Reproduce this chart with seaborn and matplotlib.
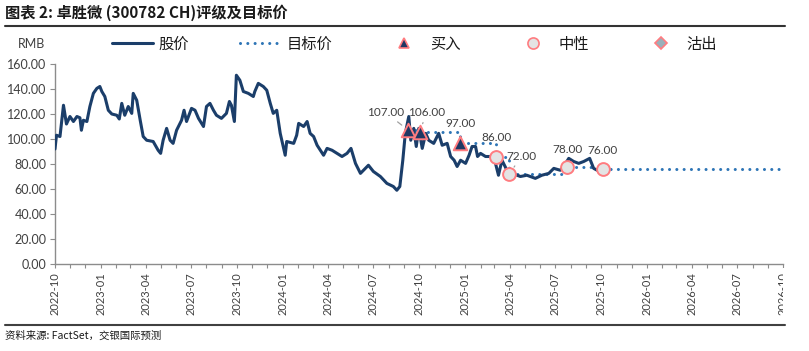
import pandas as pd
import matplotlib
matplotlib.use("Agg")
import matplotlib.pyplot as plt
import matplotlib.dates as mdates
from matplotlib.lines import Line2D
from matplotlib.patches import Rectangle
import seaborn as sns

# 股价 (RMB)
price_dates = [
    "2022-10-01", "2022-10-04", "2022-10-11", "2022-10-18", "2022-10-24", "2022-10-31",
    "2022-11-07", "2022-11-14", "2022-11-20", "2022-11-23", "2022-11-27", "2022-12-04",
    "2022-12-10", "2022-12-17", "2022-12-24", "2022-12-30", "2023-01-03", "2023-01-09",
    "2023-01-16", "2023-01-23", "2023-02-02", "2023-02-07", "2023-02-12", "2023-02-18",
    "2023-02-25", "2023-03-04", "2023-03-07", "2023-03-14", "2023-03-21", "2023-03-27",
    "2023-04-03", "2023-04-16", "2023-04-26", "2023-05-01", "2023-05-06", "2023-05-13",
    "2023-05-20", "2023-05-26", "2023-06-02", "2023-06-12", "2023-06-17", "2023-06-22",
    "2023-07-02", "2023-07-09", "2023-07-16", "2023-07-26", "2023-08-01", "2023-08-08",
    "2023-08-15", "2023-08-21", "2023-08-31", "2023-09-10", "2023-09-16", "2023-09-20",
    "2023-09-26", "2023-09-30", "2023-10-07", "2023-10-14", "2023-10-24", "2023-11-03",
    "2023-11-06", "2023-11-13", "2023-11-23", "2023-11-30", "2023-12-07", "2023-12-13",
    "2023-12-20", "2023-12-27", "2024-01-02", "2024-01-06", "2024-01-09", "2024-01-23",
    "2024-01-29", "2024-02-02", "2024-02-12", "2024-02-19", "2024-02-25", "2024-03-03",
    "2024-03-10", "2024-03-23", "2024-03-30", "2024-04-09", "2024-04-19", "2024-04-29",
    "2024-05-09", "2024-05-17", "2024-05-26", "2024-06-05", "2024-06-15", "2024-06-21",
    "2024-07-01", "2024-07-15", "2024-07-28", "2024-08-10", "2024-08-17", "2024-08-23",
    "2024-08-29", "2024-09-03", "2024-09-10", "2024-09-14", "2024-09-20", "2024-09-25",
    "2024-09-30", "2024-10-07", "2024-10-14", "2024-10-20", "2024-10-30", "2024-11-09",
    "2024-11-16", "2024-11-26", "2024-12-03", "2024-12-10", "2024-12-16", "2024-12-23",
    "2025-01-02", "2025-01-09", "2025-01-15", "2025-01-22", "2025-01-26", "2025-02-01",
    "2025-02-11", "2025-02-21", "2025-03-03", "2025-03-09", "2025-03-16", "2025-03-26",
    "2025-04-05", "2025-04-22", "2025-05-05", "2025-05-22", "2025-06-04", "2025-06-18",
    "2025-06-28", "2025-07-11", "2025-07-18", "2025-07-28", "2025-08-07", "2025-08-17",
    "2025-08-27", "2025-09-08", "2025-09-16", "2025-09-23", "2025-10-03",
]
price_values = [
    92, 103, 102, 127, 112, 118,
    114, 118, 117, 107, 115, 114,
    126, 136.5, 140.5, 142, 138, 134,
    123, 120, 119, 116, 128.5, 119,
    126, 120.5, 136.5, 131, 115, 102,
    99, 98, 91, 88.5, 99, 108.5,
    99, 96.5, 107, 115, 123, 114,
    124.5, 123, 116.5, 110, 126, 128.5,
    123, 119, 116.5, 120.5, 130, 127,
    114, 151, 147, 138, 136.5, 134,
    138, 144.5, 142, 139, 128.5, 120.5,
    123, 104.5, 94, 87, 98, 96.5,
    103, 112.5, 110, 114, 104.5, 102,
    95, 87, 92.5, 91, 88.5, 86,
    88.5, 92.5, 80.5, 72.5, 76.5, 79,
    74, 70, 64.5, 62, 59, 62,
    83, 104.5, 118, 99, 108.5, 94,
    108.5, 92.5, 104.5, 99, 96.5, 104.5,
    95, 96.5, 86, 83, 78, 83,
    80.5, 87, 94, 94, 86, 88.5,
    86, 86, 80.5, 71, 83, 75,
    72.5, 70, 71, 68.5, 71, 72.5,
    76.5, 75, 78, 84.5, 82, 80.5,
    82, 84.5, 76.5, 75, 75,
]

# 评级及目标价
rating_dates = ["2024-09-09", "2024-10-02", "2024-12-22", "2025-03-05",
                "2025-03-31", "2025-07-25", "2025-10-04"]
rating_targets = [107, 106, 97, 86, 72, 78, 76]
rating_types = ["买入", "买入", "买入", "中性", "中性", "中性", "中性"]
target_end_date = "2026-10-01"

legend_labels = ["股价", "目标价", "买入", "中性", "沽出"]

navy = "#1B3E6A"
dot_blue = "#2E75B6"
pink = "#FF7C80"
tri_fill = "#1F3864"
circ_fill = "#E4E4E4"
dia_fill = "#9AB0BA"
txt = "#404040"

sns.set_theme(style="white")
plt.rcParams["font.family"] = ["Noto Sans CJK SC", "DejaVu Sans"]

W, H = 809, 351
fig = plt.figure(figsize=(W / 100, H / 100), dpi=100)
ax = fig.add_axes([55 / W, 1 - 264 / H, 728 / W, 200 / H])

price = pd.DataFrame({"date": pd.to_datetime(price_dates), "value": price_values})
target = pd.DataFrame({
    "date": pd.to_datetime(rating_dates + [target_end_date]),
    "value": rating_targets + [rating_targets[-1]],
})
ratings = pd.DataFrame({"date": pd.to_datetime(rating_dates),
                        "value": rating_targets, "type": rating_types})

sns.lineplot(data=target, x="date", y="value", ax=ax, color=dot_blue, lw=2.2,
             drawstyle="steps-post", linestyle=(0, (0.01, 2.38)),
             dash_capstyle="round", zorder=2, legend=False)
sns.lineplot(data=price, x="date", y="value", ax=ax, color=navy, lw=2.2,
             zorder=3, legend=False)

buy = ratings[ratings["type"] == "买入"]
neu = ratings[ratings["type"] == "中性"]
sns.scatterplot(data=buy, x="date", y="value", ax=ax, marker="^", s=95,
                color=tri_fill, edgecolor=pink, linewidth=1.4, zorder=5, legend=False)
sns.scatterplot(data=neu, x="date", y="value", ax=ax, marker="o", s=85,
                color=circ_fill, edgecolor=pink, linewidth=1.4, zorder=5, legend=False)

# target labels
offsets = [(-23, 18), (7, 19), (0, 19), (0, 19), (12, 18), (0, 17), (0, 18)]
leaders = [True, True, False, False, True, False, False]
for d, v, off, lead in zip(ratings["date"], rating_targets, offsets, leaders):
    kw = {}
    if lead:
        kw["arrowprops"] = dict(arrowstyle="-", color="#A0A0A0", lw=0.9,
                                shrinkA=1, shrinkB=6)
    ax.annotate(f"{v:.2f}", xy=(d, v), xytext=off, textcoords="offset pixels",
                ha="center", va="center", fontsize=8.5, color=txt,
                family=["Lato", "DejaVu Sans"], zorder=6, **kw)

ax.set_ylim(0, 160)
ax.set_yticks(range(0, 161, 20))
ax.set_yticklabels([f"{t:.2f}" for t in range(0, 161, 20)],
                   family=["Lato", "DejaVu Sans"], fontsize=9, color=txt)
ax.set_xlim(pd.Timestamp("2022-10-01"), pd.Timestamp("2026-10-01"))
ax.xaxis.set_major_locator(mdates.MonthLocator(bymonth=[1, 4, 7, 10]))
ax.xaxis.set_minor_locator(mdates.MonthLocator())
ax.xaxis.set_major_formatter(mdates.DateFormatter("%Y-%m"))
ax.set_xlabel("")
ax.set_ylabel("")

for s in ["top", "right"]:
    ax.spines[s].set_visible(False)
for s in ["left", "bottom"]:
    ax.spines[s].set_color("#8C8C8C")
    ax.spines[s].set_linewidth(1)
ax.tick_params(axis="y", which="major", left=True, length=3.5, width=0.8,
               color="#8C8C8C", pad=2.5)
ax.tick_params(axis="x", which="both", bottom=True, length=3, width=0.8,
               color="#8C8C8C", pad=3)
plt.setp(ax.get_xticklabels(), rotation=90, fontsize=8, color=txt,
         family=["Lato", "DejaVu Sans"])

# the last date label is cut at the right edge of the chart area
fig.add_artist(Rectangle((783 / W, 1 - 318 / H), 26 / W, 50 / H, facecolor="white",
                         edgecolor="none", transform=fig.transFigure, zorder=10))

# legend row
handles = [
    Line2D([], [], color=navy, lw=2.2),
    Line2D([], [], color=dot_blue, lw=2.2, linestyle=(0, (0.01, 2.38)),
           dash_capstyle="round"),
    Line2D([], [], ls="none", marker="^", ms=7, mfc=tri_fill, mec=pink, mew=1.2),
    Line2D([], [], ls="none", marker="o", ms=8, mfc=circ_fill, mec=pink, mew=1.2),
    Line2D([], [], ls="none", marker="D", ms=6, mfc=dia_fill, mec=pink, mew=1.2),
]
fig.legend(handles, legend_labels, loc="center left", ncol=5, frameon=False,
           bbox_to_anchor=(112 / W, 1 - 44 / H), borderaxespad=0, borderpad=0,
           fontsize=11, handlelength=2.68, handletextpad=0.33, columnspacing=3.39,
           labelcolor="#1A1A1A")
fig.text(18 / W, 1 - 44 / H, "RMB", ha="left", va="center", fontsize=9,
         color=txt, family=["Lato", "DejaVu Sans"])

# title, rules and source
fig.text(5 / W, 1 - 13 / H, "图表 2: 卓胜微 (300782 CH)评级及目标价", ha="left",
         va="center", fontsize=11, fontweight="bold", color="#1A1A1A")
fig.add_artist(Line2D([5 / W, 785 / W], [1 - 26 / H] * 2, color="#333333", lw=1.5,
                      transform=fig.transFigure))
fig.add_artist(Line2D([5 / W, 785 / W], [1 - 325 / H] * 2, color="#404040", lw=1.5,
                      transform=fig.transFigure))
fig.text(5 / W, 1 - 336 / H, "资料来源: FactSet，交银国际预测", ha="left", va="center",
         fontsize=7.5, color="#1A1A1A")

fig.savefig("out.png", dpi=100)
